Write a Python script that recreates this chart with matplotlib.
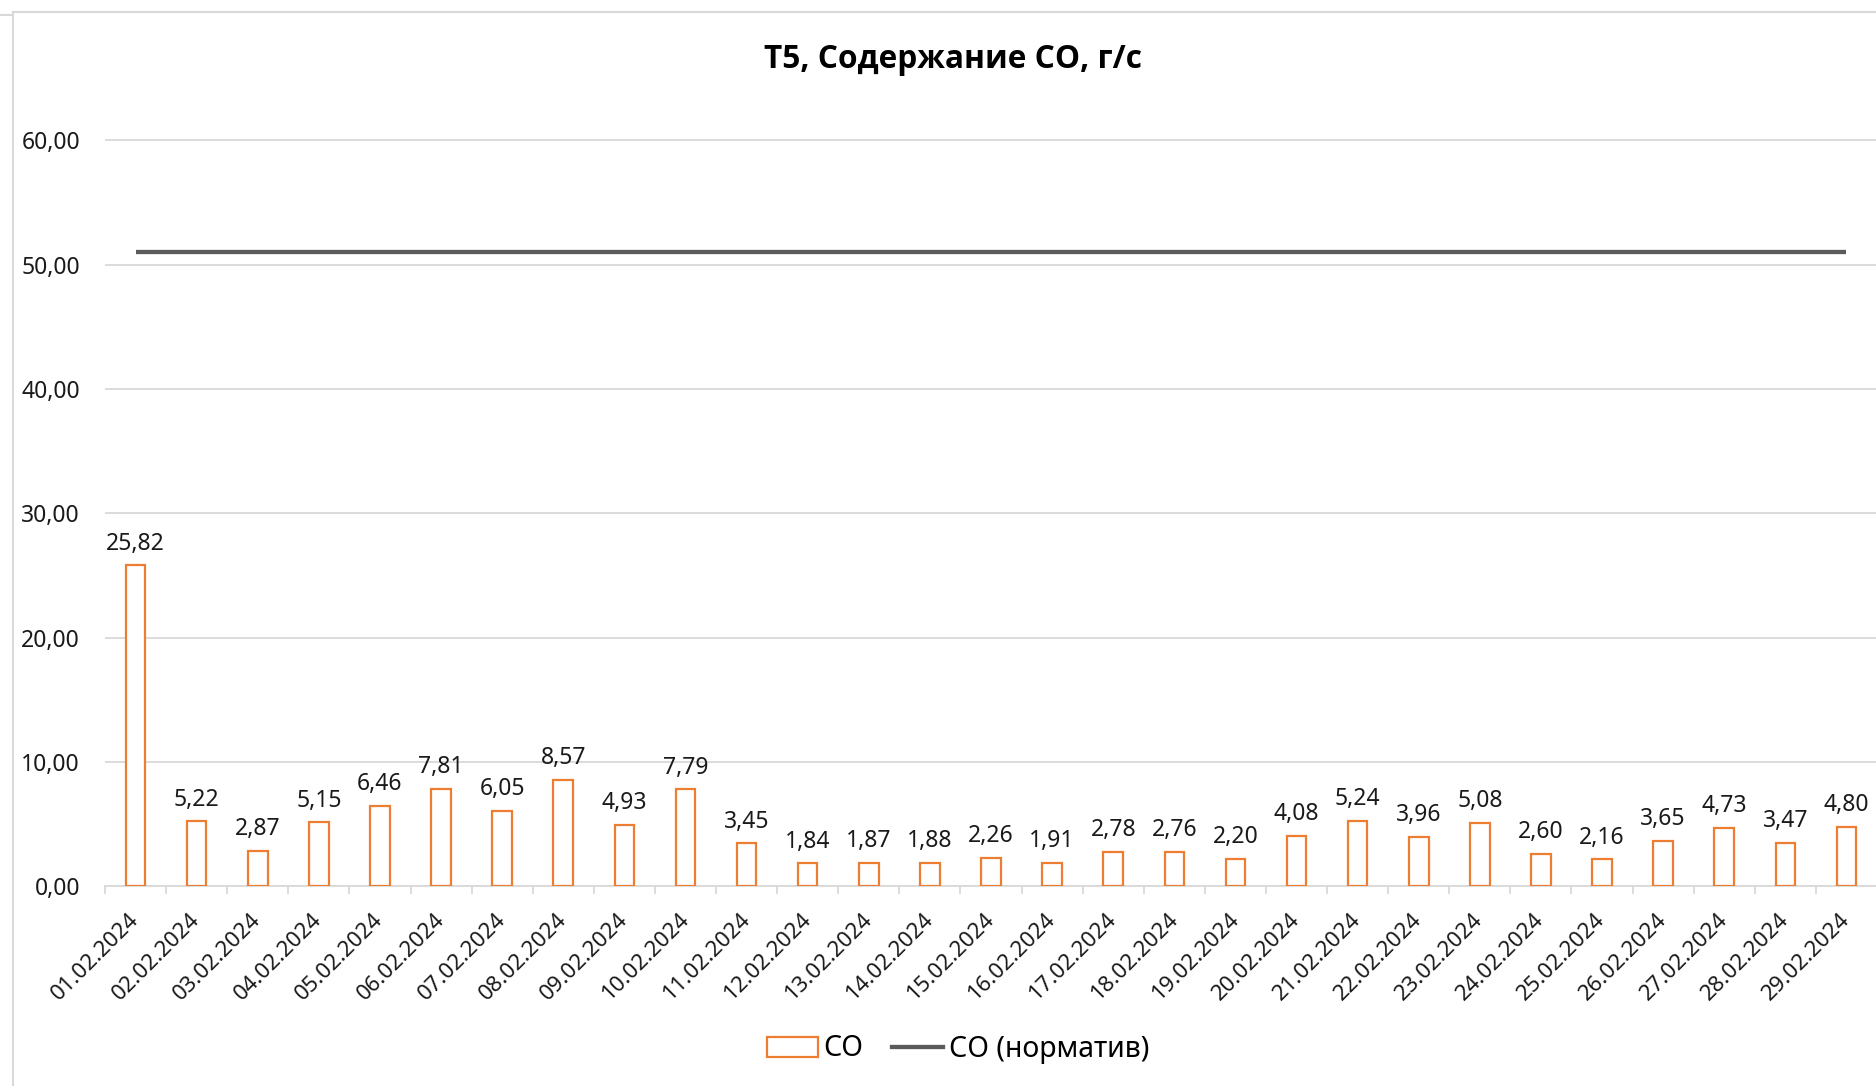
import matplotlib
matplotlib.use("Agg")
import matplotlib.pyplot as plt
from matplotlib.lines import Line2D
from matplotlib.patches import Patch

plt.rcParams["font.family"] = ["Noto Sans", "DejaVu Sans"]

DATES = [f"{d:02d}.02.2024" for d in range(1, 30)]
CO = [25.82, 5.22, 2.87, 5.15, 6.46, 7.81, 6.05, 8.57, 4.93, 7.79,
      3.45, 1.84, 1.87, 1.88, 2.26, 1.91, 2.78, 2.76, 2.20, 4.08,
      5.24, 3.96, 5.08, 2.60, 2.16, 3.65, 4.73, 3.47, 4.80]
NORM = [51.0] * len(DATES)
Y_TICKS = [0, 10, 20, 30, 40, 50, 60]

ORANGE = "#ED7D31"
NORM_COLOR = "#5B5B5B"
GRID = "#D9D9D9"

W, H = 1876, 1086
fig = plt.figure(figsize=(W / 100, H / 100), dpi=100)
ax = fig.add_axes([105 / W, 1 - 886.3 / H, (1877 - 105) / W, (886.3 - 115.6) / H])

x = list(range(len(DATES)))
ax.bar(x, CO, width=0.32, facecolor="white", edgecolor=ORANGE, linewidth=1.6,
       zorder=3)
ax.plot(x, NORM, color=NORM_COLOR, lw=3.1, zorder=4, solid_capstyle="butt")

for xi, v in zip(x, CO):
    ax.annotate(f"{v:.2f}".replace(".", ","), (xi, v), xytext=(0, 7),
                textcoords="offset points", ha="center", va="bottom",
                fontsize=16.5, color="#1a1a1a", zorder=5)

ax.set_xlim(-0.5, len(DATES) - 0.5)
ax.set_ylim(0, 62)
ax.set_yticks(Y_TICKS)
ax.set_yticklabels([f"{t:.2f}".replace(".", ",") for t in Y_TICKS])
ax.tick_params(axis="y", length=0, pad=18, labelsize=16.5, labelcolor="#1a1a1a")
ax.grid(axis="y", color=GRID, lw=1.3, zorder=0)
ax.set_axisbelow(True)

ax.set_xticks(x)
ax.set_xticklabels(DATES, rotation=45, ha="right", rotation_mode="anchor",
                   va="center")
ax.set_xticks([i - 0.5 for i in range(len(DATES) + 1)], minor=True)
ax.tick_params(axis="x", which="major", length=0, pad=22, labelsize=16,
               labelcolor="#1a1a1a")
ax.tick_params(axis="x", which="minor", length=6, width=1.3, color=GRID)

for s in ("top", "right", "left"):
    ax.spines[s].set_visible(False)
ax.spines["bottom"].set_color(GRID)
ax.spines["bottom"].set_linewidth(1.3)

fig.text(953 / W, 1 - 59 / H, "Т5, Содержание СО, г/с", ha="center",
         va="center", fontsize=22.8, fontweight="bold", color="black",
         family=["Open Sans", "DejaVu Sans"])

handles = [Patch(facecolor="white", edgecolor=ORANGE, linewidth=1.6),
           Line2D([0], [0], color=NORM_COLOR, lw=3.1)]
fig.legend(handles, ["СО", "СО (норматив)"], loc="center", ncol=2,
           bbox_to_anchor=(958 / W, 1 - 1049 / H), frameon=False,
           fontsize=20.5, handlelength=1.8, handleheight=0.7,
           handletextpad=0.2, columnspacing=1.0)

# chart-area border like the spreadsheet export
fig.add_artist(Line2D([12.5 / W, 1], [1 - 12 / H] * 2, color=GRID, lw=1.5))
fig.add_artist(Line2D([12.5 / W] * 2, [0, 1 - 12 / H], color=GRID, lw=1.5))
fig.add_artist(Line2D([0, 11 / W], [1 - 15 / H] * 2, color=GRID, lw=1.5))

fig.savefig("out.png", dpi=100)
